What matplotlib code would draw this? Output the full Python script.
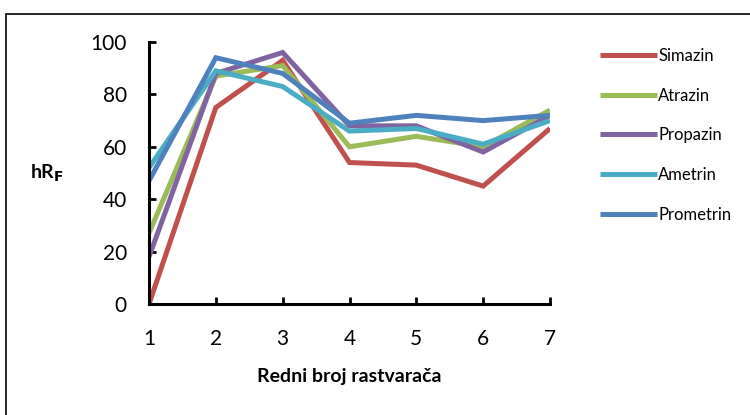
import matplotlib.pyplot as plt
from matplotlib.patches import Rectangle

# redni broj rastvarača i hRF vrijednosti za svaki triazin
rastvarac = [1, 2, 3, 4, 5, 6, 7]
simazin = [0, 75, 93, 54, 53, 45, 67]
atrazin = [27, 87, 91, 60, 64, 60, 74]
propazin = [18, 88, 96, 68, 68, 58, 72]
ametrin = [52, 89, 83, 66, 67, 61, 70]
prometrin = [47, 94, 88, 69, 72, 70, 72]

nazivi = ['Simazin', 'Atrazin', 'Propazin', 'Ametrin', 'Prometrin']
boje = ['#C0504D', '#9BBB59', '#8064A2', '#4BACC6', '#4F81BD']
serije = [simazin, atrazin, propazin, ametrin, prometrin]

plt.rcParams['font.family'] = ['Lato', 'DejaVu Sans']

fig = plt.figure(figsize=(7.5, 4.15), dpi=100)
# okvir oko grafikona
fig.patches.append(Rectangle((6 / 750, -0.1), 1.1, 1 - 14 / 415 + 0.1,
                             transform=fig.transFigure, fill=False,
                             edgecolor='black', linewidth=1.2))

ax = fig.add_axes([149 / 750, 1 - 304 / 415, 401 / 750, 262 / 415])
for y, naziv, boja in zip(serije, nazivi, boje):
    ax.plot(rastvarac, y, color=boja, linewidth=3.6, label=naziv,
            solid_joinstyle='miter', solid_capstyle='butt')

ax.set_xlim(1, 7)
ax.set_ylim(0, 100)
ax.set_xticks(rastvarac)
ax.set_yticks(range(0, 101, 20))
ax.tick_params(direction='in', length=5, width=2, labelsize=15)
ax.tick_params(axis='y', pad=16)
ax.tick_params(axis='x', pad=18)
for s in ['top', 'right']:
    ax.spines[s].set_visible(False)
for s in ['left', 'bottom']:
    ax.spines[s].set_linewidth(2.2)

ax.set_xlabel('Redni broj rastvarača', fontsize=14, fontweight='bold', labelpad=14)
fig.text(47 / 750, 1 - 173 / 415, r'hR$_\mathbf{F}$', fontsize=14,
         fontweight='bold', ha='center', va='center')

ax.legend(loc='upper left', bbox_to_anchor=(585 / 750, 1 - 33 / 415),
          bbox_transform=fig.transFigure, frameon=False, fontsize=12,
          handlelength=3.4, handletextpad=0.1, labelspacing=1.42)

fig.savefig('out.png', dpi=100)
